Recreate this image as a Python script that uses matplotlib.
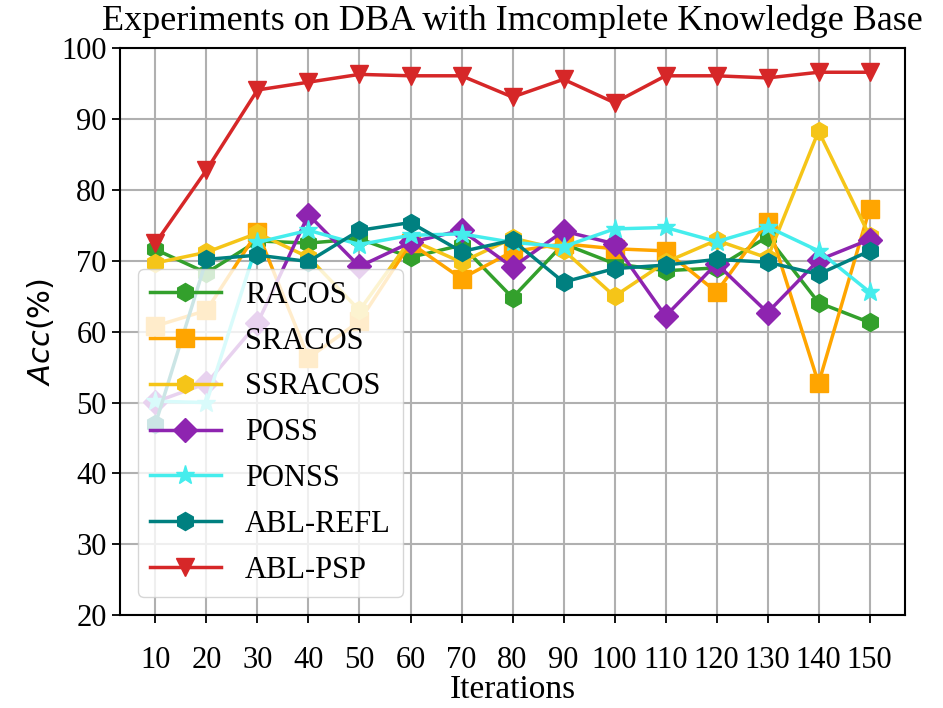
import matplotlib
matplotlib.use("Agg")
import matplotlib.pyplot as plt

iterations = [10, 20, 30, 40, 50, 60, 70, 80, 90, 100, 110, 120, 130, 140, 150]

racos    = [71.6, 68.3, 72.8, 72.5, 73.1, 70.5, 72.2, 64.8, 72.4, 69.6, 68.6, 69.0, 73.4, 64.1, 61.3]
sracos   = [60.8, 63.0, 74.1, 56.3, 61.5, 72.5, 67.5, 71.3, 72.4, 71.7, 71.4, 65.6, 75.5, 52.7, 77.3]
ssracos  = [69.7, 71.2, 73.9, 70.5, 63.0, 73.0, 69.8, 73.2, 71.5, 65.0, 69.8, 72.9, 70.4, 88.3, 73.5]
poss     = [50.1, 52.7, 61.2, 76.5, 69.2, 72.6, 74.3, 69.1, 74.2, 72.4, 62.2, 69.6, 62.7, 70.1, 73.0]
ponss    = [50.2, 50.0, 72.6, 74.3, 72.3, 73.6, 73.8, 72.6, 72.0, 74.5, 74.7, 72.7, 74.8, 71.4, 65.6]
abl_refl = [47.0, 70.2, 70.8, 69.9, 74.3, 75.4, 71.3, 72.9, 67.0, 68.9, 69.4, 70.2, 69.8, 68.1, 71.4]
abl_psp  = [72.5, 82.8, 94.1, 95.2, 96.3, 96.1, 96.1, 93.1, 95.6, 92.3, 96.1, 96.1, 95.8, 96.6, 96.6]

labels = ["RACOS", "SRACOS", "SSRACOS", "POSS", "PONSS", "ABL-REFL", "ABL-PSP"]
series = [racos, sracos, ssracos, poss, ponss, abl_refl, abl_psp]
colors = ["#33a02c", "#ffa500", "#f5c518", "#8e24b0", "#45eded", "#008080", "#d62728"]
markers = ["h", "s", "h", "D", "*", "h", "v"]
msizes = [13, 13, 13, 12, 14, 13, 13]

plt.rcParams['font.family'] = ['Liberation Serif', 'DejaVu Serif']

fig = plt.figure(figsize=(9.43, 7.08), dpi=100)
ax = fig.add_axes([0.127, 0.131, 0.833, 0.801])

for y, lab, c, m, ms in zip(series, labels, colors, markers, msizes):
    ax.plot(iterations, y, color=c, marker=m, markersize=ms, linewidth=2.5, label=lab)

ax.set_ylim(20, 100)
ax.set_xticks(iterations)
ax.set_yticks(range(20, 101, 10))
ax.grid(True, color="#b0b0b0", linewidth=1.5)
ax.set_axisbelow(True)
for s in ax.spines.values():
    s.set_linewidth(1.5)
ax.tick_params(axis='both', labelsize=22, width=1.3, length=6)
ax.tick_params(axis='x', pad=16)

ax.set_xlabel("Iterations", fontsize=24, labelpad=0)
ax.set_ylabel("$Acc$(%)", fontsize=22, family=['DejaVu Sans'])
ax.set_title("Experiments on DBA with Imcomplete Knowledge Base", fontsize=26, pad=13)

leg = ax.legend(loc='lower left', fontsize=22, framealpha=0.8, borderaxespad=0.6,
                handlelength=2.3, labelspacing=0.55)

fig.savefig("out.png", dpi=100)
